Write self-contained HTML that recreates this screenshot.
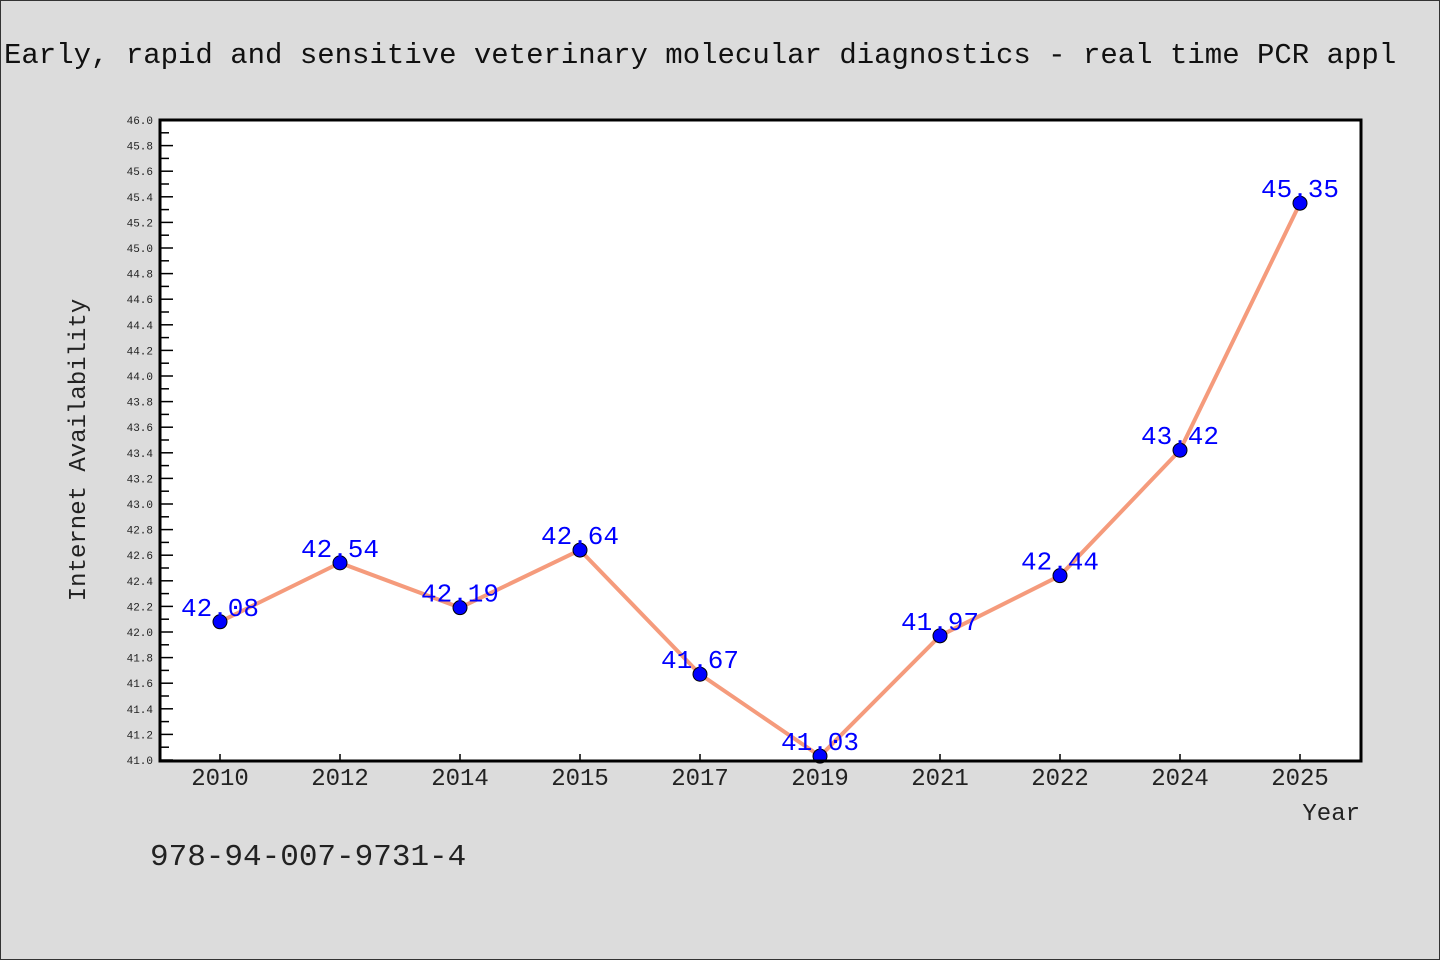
<!DOCTYPE html>
<html><head><meta charset="utf-8"><style>
html,body{margin:0;padding:0;background:#dcdcdc;}
svg{display:block;font-family:"WenQuanYi Zen Hei","Liberation Mono",monospace;}
</style></head><body>
<svg id="chart" width="1440" height="960" xmlns="http://www.w3.org/2000/svg">
<rect x="0.5" y="0.5" width="1439" height="959" fill="#dcdcdc" stroke="#333"/>
<text x="4" y="63" font-size="29" fill="#111">Early, rapid and sensitive veterinary molecular diagnostics - real time PCR appl</text>
<rect x="160" y="120" width="1201" height="641" fill="#fff"/>
<g id="axes"></g>
<g id="series"></g>
<rect x="160" y="120" width="1201" height="641" fill="none" stroke="#000" stroke-width="3"/>
<text transform="translate(85,450) rotate(-90)" text-anchor="middle" font-size="24" fill="#222">Internet Availability</text>
<text x="1360" y="820" text-anchor="end" font-size="24" fill="#222">Year</text>
<text x="150" y="865" font-size="31" fill="#222">978-94-007-9731-4</text>
</svg>
<script>
const categories = ["2010","2012","2014","2015","2017","2019","2021","2022","2024","2025"];
const values = [42.08,42.54,42.19,42.64,41.67,41.03,41.97,42.44,43.42,45.35];
const labels = ["42.08","42.54","42.19","42.64","41.67","41.03","41.97","42.44","43.42","45.35"];
const yMin = 41.0, yMax = 46.0;
const NS="http://www.w3.org/2000/svg";
const L=160,R=1360,T=120,B=760;
const x=i=>L+(R-L)/categories.length*(i+0.5);
const y=v=>B-(v-yMin)/(yMax-yMin)*(B-T);
function mk(tag,attrs,parent){const e=document.createElementNS(NS,tag);for(const k in attrs)e.setAttribute(k,attrs[k]);parent.appendChild(e);return e;}
const axes=document.getElementById('axes'),ser=document.getElementById('series');
for(let k=0;k<=50;k++){
  const v=yMin+k*0.1, yy=y(v), major=k%2===0;
  const t=mk('line',{x1:L,x2:L+(major?13:9),y1:yy,y2:yy,stroke:'#000','stroke-width':1.5},axes);
  
  
  if(major){
    const tx=mk('text',{x:153,y:yy+4,'text-anchor':'end','font-size':11,fill:'#222'},axes);
    tx.textContent=v.toFixed(1);
    
    
  }
}
categories.forEach((c,i)=>{
  const t=mk('line',{x1:x(i),x2:x(i),y1:B,y2:B-6,stroke:'#000','stroke-width':1.5},axes);
  
  
  const tx=mk('text',{x:x(i),y:785,'text-anchor':'middle','font-size':24,fill:'#222'},axes);
  tx.textContent=c;
  
  
});
const pl=mk('polyline',{points:values.map((v,i)=>x(i)+','+y(v)).join(' '),fill:'none',stroke:'#f59b7c','stroke-width':4,'stroke-linejoin':'round'},ser);


values.forEach((v,i)=>{
  const c=mk('circle',{cx:x(i),cy:y(v),r:7,fill:'#0000ff',stroke:'#000','stroke-width':1},ser);
  
  
  const t=mk('text',{x:x(i),y:y(v)-6,'text-anchor':'middle','font-size':26,fill:'#0000ff'},ser);
  t.textContent=labels[i];
  
  
});
</script>
</body></html>
